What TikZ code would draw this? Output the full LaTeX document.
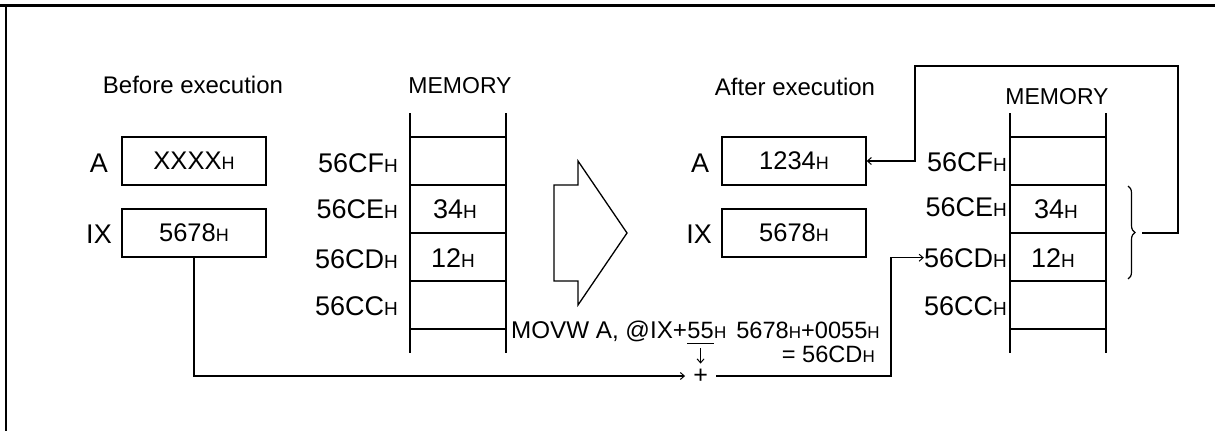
\documentclass[tikz,border=0pt]{standalone}
\usepackage{fontspec}
\setmainfont{Liberation Sans}
\usetikzlibrary{arrows.meta,decorations.pathreplacing}
\newcommand{\Hbig}{{\fontsize{19}{19}\selectfont H}}
\newcommand{\Hreg}{{\fontsize{18}{18}\selectfont H}}
\newcommand{\Hsml}{{\fontsize{17}{17}\selectfont H}}
\tikzset{
 ttl/.style={font=\fontsize{24}{26}\selectfont, inner sep=0pt},
 ttm/.style={font=\fontsize{23}{26}\selectfont, inner sep=0pt},
 lbl/.style={font=\fontsize{27}{30}\selectfont, inner sep=0pt},
 ins/.style={font=\fontsize{23.6}{26}\selectfont, inner sep=0pt},
 reg/.style={draw, line width=1.3pt, minimum width=144pt, minimum height=48pt, inner sep=0pt, font=\fontsize{25.5}{28}\selectfont},
 ln/.style={line width=1.3pt},
 arr/.style={line width=1.3pt, -{Straight Barb[length=4pt,width=7pt,line width=1pt]}},
}
\begin{document}
\begin{tikzpicture}[x=1pt,y=-1pt]
\useasboundingbox (0,0) rectangle (1215,431);
% frame
\draw[line width=3pt] (0,5) -- (1215,5);
\draw[line width=2pt] (6,4) -- (6,431);
% headings
\node[ttl] (befL) at (193,85) {Before execution};
\node[ttm] (memL) at (460,86) {MEMORY};
\node[ttl] (aftR) at (795,87) {After execution};
\node[ttm] (memR) at (1057,97) {MEMORY};
% registers, before
\node[lbl, anchor=base] (aLl) at (99,172) {A};
\node[lbl, anchor=base] (ixLl) at (99,243) {IX};
\node[reg] (aL) at (194,161) {XXXX\Hreg};
\node[reg] (ixL) at (194,233) {5678\Hreg};
% registers, after
\node[lbl, anchor=base] (aRl) at (700,172) {A};
\node[lbl, anchor=base] (ixRl) at (699,243) {IX};
\node[reg] (aR) at (794,161) {1234\Hreg};
\node[reg] (ixR) at (794,233) {5678\Hreg};
% memory columns
\foreach \mx in {410,1010} {
  \draw[ln] (\mx,113) -- (\mx,353);
  \draw[ln] (\mx+96,113) -- (\mx+96,353);
  \foreach \yy in {137,185,233,281,329} \draw[ln] (\mx,\yy) -- (\mx+96,\yy);
}
% memory labels, before
\node[lbl, anchor=base east] (lCF) at (398,172) {56CF\Hbig};
\node[lbl, anchor=base east] (lCE) at (398,218) {56CE\Hbig};
\node[lbl, anchor=base east] (lCD) at (398,268) {56CD\Hbig};
\node[lbl, anchor=base east] (lCC) at (398,315) {56CC\Hbig};
\node[lbl, anchor=base] (lv34) at (455,218) {34\Hbig};
\node[lbl, anchor=base] (lv12) at (453,267) {12\Hbig};
% memory labels, after
\node[lbl, anchor=base east] (rCF) at (1007,171) {56CF\Hbig};
\node[lbl, anchor=base east] (rCE) at (1007,216) {56CE\Hbig};
\node[lbl, anchor=base east] (rCD) at (1007,267) {56CD\Hbig};
\node[lbl, anchor=base east] (rCC) at (1007,315) {56CC\Hbig};
\node[lbl, anchor=base] (rv34) at (1056,218) {34\Hbig};
\node[lbl, anchor=base] (rv12) at (1053,267) {12\Hbig};
% big hollow arrow
\draw[line width=1.3pt] (554,185) -- (578,185) -- (578,161) -- (627,233) -- (578,305) -- (578,281) -- (554,281) -- cycle;
% instruction
\node[ins, font=\fontsize{24.2}{26}\selectfont, anchor=base west] (mv1) at (511,338) {MOVW A, @IX+};
\node[ins, anchor=base west] (mv55) at (mv1.base east) {55};
\node[ins, anchor=base west] (mv2) at (mv55.base east) {\Hsml\hspace{10pt}5678\Hsml+0055\Hsml};
\node[ins, anchor=base east] (eq) at (875,362) {= 56CD\Hsml};
\draw[ln] ([yshift=-5pt]mv55.south west) -- ([yshift=-5pt]mv55.south east);
\node[font=\fontsize{25}{25}\selectfont, inner sep=0pt] (plus) at (mv55.south |- 0,376) {+};
\draw[arr, line width=1pt] ([yshift=-10pt]mv55.south) -- ([yshift=5pt]plus.north);
% connectors
\draw[arr] (ixL.south) |- ([xshift=-8pt]plus.west);
\coordinate (turn) at (891,0);
\draw[arr] ([xshift=8pt]plus.east) -- (turn |- plus.east) |- (rCD.west);
% brace and feedback
\draw[line width=1.2pt, decorate, decoration={brace, amplitude=7pt}] (1128,186) -- (1128,279);
\coordinate (btip) at (1135,233);
\coordinate (fbR) at (1178,66);
\coordinate (fbL) at (915,66);
\draw[arr] ([xshift=7pt]btip) -| (fbR) -- (fbL) |- (aR.east);
\end{tikzpicture}
\end{document}
